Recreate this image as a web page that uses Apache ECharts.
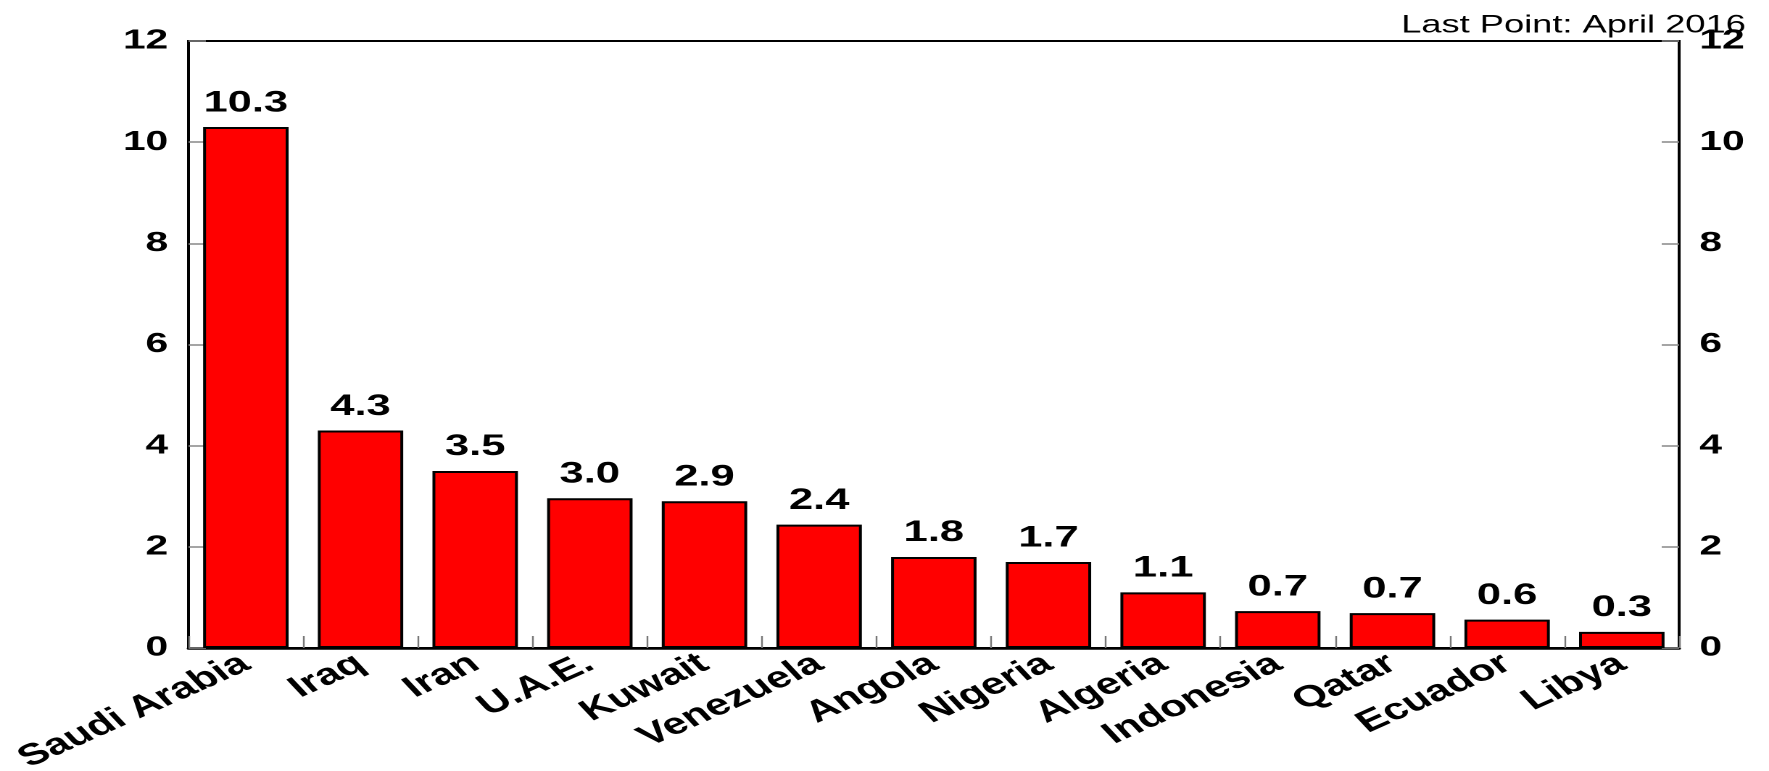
<!DOCTYPE html>
<html>
<head>
<meta charset="utf-8">
<script src="https://cdn.jsdelivr.net/npm/echarts@6/dist/echarts.min.js"></script>
<style>
  html, body { margin: 0; padding: 0; background: #fff; overflow: hidden; }
  #wrap { width: 1769px; height: 771px; overflow: hidden; }
  /* The chart is laid out narrow and widened horizontally, giving the wide lettering */
  #chart { width: 1220px; height: 771px; transform: scaleX(1.45); transform-origin: 0 0; }
</style>
</head>
<body>
<div id="wrap"><div id="chart"></div></div>
<script>
// OPEC crude production by member, million barrels per day
const countries = ['Saudi Arabia', 'Iraq', 'Iran', 'U.A.E.', 'Kuwait', 'Venezuela', 'Angola',
                   'Nigeria', 'Algeria', 'Indonesia', 'Qatar', 'Ecuador', 'Libya'];
const production = [10.3, 4.3, 3.5, 2.96, 2.9, 2.44, 1.8, 1.7, 1.1, 0.73, 0.69, 0.56, 0.32];
const yTicks = [0, 2, 4, 6, 8, 10, 12];
const noteText = 'Last Point: April 2016';

const FONT = 'Liberation Sans, Arial, sans-serif';
const chart = echarts.init(document.getElementById('chart'), null, { renderer: 'canvas', devicePixelRatio: 2 });

const valueAxisBase = {
  type: 'value',
  min: yTicks[0],
  max: yTicks[yTicks.length - 1],
  interval: yTicks[1] - yTicks[0],
  axisLine: { show: true, lineStyle: { color: '#000', width: 2 } },
  axisTick: { show: true, inside: true, length: 12, lineStyle: { color: '#888', width: 1.5 } },
  splitLine: { show: false },
  axisLabel: {
    margin: 14,
    color: '#000',
    fontFamily: FONT,
    fontWeight: 'bold',
    fontSize: 28
  }
};

chart.setOption({
  animation: false,
  backgroundColor: '#fff',
  title: {
    text: noteText,
    right: 11,
    top: 8,
    textStyle: { fontFamily: FONT, fontWeight: 'normal', fontSize: 25, color: '#000' }
  },
  grid: {
    left: 130, right: 62, top: 41, bottom: 123,
    outerBoundsMode: 'none',
    containLabel: false,
    show: true, borderColor: '#000', borderWidth: 2, backgroundColor: 'transparent'
  },
  xAxis: {
    type: 'category',
    data: countries,
    axisLine: { show: true, lineStyle: { color: '#000', width: 2.5 } },
    axisTick: { show: true, inside: true, length: 12, lineStyle: { color: '#777', width: 1.2 } },
    axisLabel: {
      interval: 0,
      rotate: 33,
      margin: 13,
      color: '#000',
      fontFamily: FONT,
      fontWeight: 'bold',
      fontSize: 30
    }
  },
  yAxis: [
    Object.assign({ position: 'left' }, valueAxisBase),
    Object.assign({ position: 'right' }, valueAxisBase)
  ],
  series: [{
    type: 'bar',
    data: production,
    barCategoryGap: '25.5%',
    itemStyle: { color: '#ff0000', borderColor: '#000', borderWidth: 2 },
    label: {
      show: true,
      position: 'top',
      distance: 9,
      color: '#000',
      fontFamily: FONT,
      fontWeight: 'bold',
      fontSize: 30,
      formatter: p => p.value.toFixed(1)
    }
  }]
});
</script>
</body>
</html>
